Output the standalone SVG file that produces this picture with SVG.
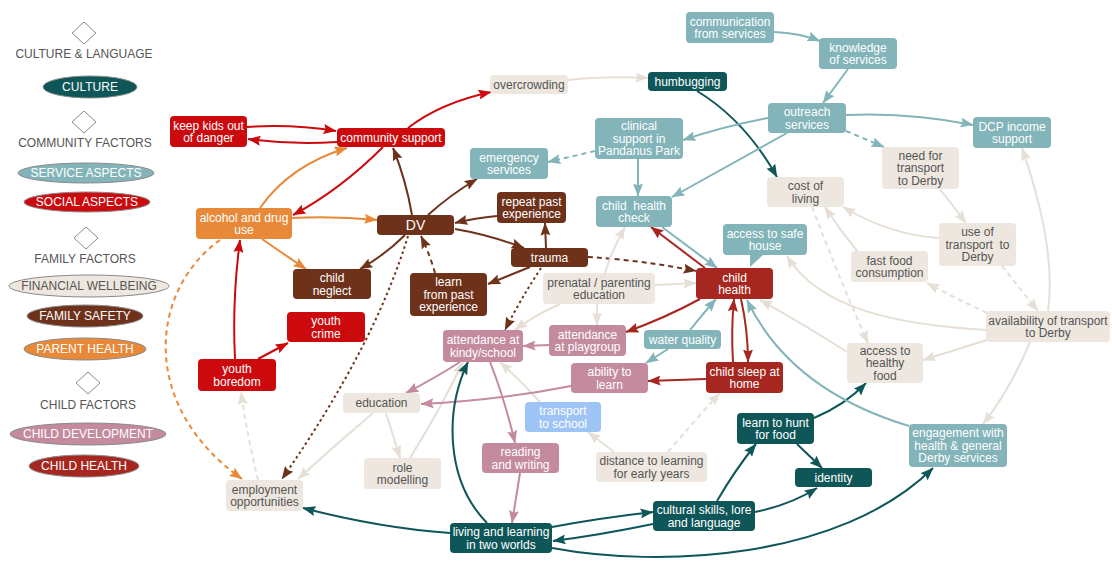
<svg xmlns="http://www.w3.org/2000/svg" width="1112" height="563" viewBox="0 0 1112 563">
<style>
  text { font-family: "Liberation Sans", Arial, sans-serif; font-size: 12px; text-anchor: middle; fill: #fff; }
  .lg { fill: #555; }
  .dk { fill: #555; }
  .dia { fill: #fff; stroke: #8a8a8a; stroke-width: 1; }
  .ell { stroke: #8a8a8a; stroke-width: 1; }
  .f-cult { fill: #0f5659; }
  .f-serv { fill: #82b4b9; }
  .f-soc { fill: #cc0a0e; }
  .f-fin { fill: #ede7df; }
  .f-fam { fill: #6e321b; }
  .f-par { fill: #e8893a; }
  .f-dev { fill: #c48a9e; }
  .f-chh { fill: #a6271f; }
  .f-blue { fill: #9ec4f6; }
  .e { fill: none; stroke-width: 2; }
  .s-cult { stroke: #0f5659; }
  .s-serv { stroke: #82b4b9; }
  .s-soc { stroke: #cc0a0e; }
  .s-fin { stroke: #e6dfd5; }
  .s-fam { stroke: #6e321b; }
  .s-par { stroke: #e8893a; }
  .s-dev { stroke: #c48a9e; }
  .s-chh { stroke: #a6271f; }
  .dash { stroke-dasharray: 5 4; }
  .dot { stroke-dasharray: 2.5 3; }
</style>
<defs>
  <marker id="a-cult" markerUnits="userSpaceOnUse" markerWidth="13" markerHeight="10" viewBox="0 0 13 10" refX="12.5" refY="5" orient="auto"><path d="M0,0 L13,5 L0,10 L2,5 z" fill="#0f5659"/></marker>
  <marker id="a-serv" markerUnits="userSpaceOnUse" markerWidth="13" markerHeight="10" viewBox="0 0 13 10" refX="12.5" refY="5" orient="auto"><path d="M0,0 L13,5 L0,10 L2,5 z" fill="#82b4b9"/></marker>
  <marker id="a-soc" markerUnits="userSpaceOnUse" markerWidth="13" markerHeight="10" viewBox="0 0 13 10" refX="12.5" refY="5" orient="auto"><path d="M0,0 L13,5 L0,10 L2,5 z" fill="#cc0a0e"/></marker>
  <marker id="a-fin" markerUnits="userSpaceOnUse" markerWidth="13" markerHeight="10" viewBox="0 0 13 10" refX="12.5" refY="5" orient="auto"><path d="M0,0 L13,5 L0,10 L2,5 z" fill="#e6dfd5"/></marker>
  <marker id="a-fam" markerUnits="userSpaceOnUse" markerWidth="13" markerHeight="10" viewBox="0 0 13 10" refX="12.5" refY="5" orient="auto"><path d="M0,0 L13,5 L0,10 L2,5 z" fill="#6e321b"/></marker>
  <marker id="a-par" markerUnits="userSpaceOnUse" markerWidth="13" markerHeight="10" viewBox="0 0 13 10" refX="12.5" refY="5" orient="auto"><path d="M0,0 L13,5 L0,10 L2,5 z" fill="#e8893a"/></marker>
  <marker id="a-dev" markerUnits="userSpaceOnUse" markerWidth="13" markerHeight="10" viewBox="0 0 13 10" refX="12.5" refY="5" orient="auto"><path d="M0,0 L13,5 L0,10 L2,5 z" fill="#c48a9e"/></marker>
  <marker id="a-chh" markerUnits="userSpaceOnUse" markerWidth="13" markerHeight="10" viewBox="0 0 13 10" refX="12.5" refY="5" orient="auto"><path d="M0,0 L13,5 L0,10 L2,5 z" fill="#a6271f"/></marker>
</defs>

<rect width="1112" height="563" fill="#fff"/>

<!-- legend -->
<g id="legend">
  <polygon class="dia" points="84,22 96,33 84,44 72,33"/>
  <text class="lg" x="84" y="58">CULTURE &amp; LANGUAGE</text>
  <ellipse class="ell f-cult" cx="90" cy="87" rx="47" ry="11"/>
  <text x="90" y="91">CULTURE</text>
  <polygon class="dia" points="84,111 96,122 84,133 72,122"/>
  <text class="lg" x="85" y="147">COMMUNITY FACTORS</text>
  <ellipse class="ell f-serv" cx="86" cy="173" rx="68" ry="10"/>
  <text x="86" y="177">SERVICE ASPECTS</text>
  <ellipse class="ell f-soc" cx="87" cy="202" rx="63" ry="10"/>
  <text x="87" y="206">SOCIAL ASPECTS</text>
  <polygon class="dia" points="86,227 98,238 86,249 74,238"/>
  <text class="lg" x="85" y="263">FAMILY FACTORS</text>
  <ellipse class="ell f-fin" cx="89" cy="286" rx="80" ry="11"/>
  <text class="dk" x="89" y="290">FINANCIAL WELLBEING</text>
  <ellipse class="ell f-fam" cx="85" cy="316" rx="58" ry="11"/>
  <text x="85" y="320">FAMILY SAFETY</text>
  <ellipse class="ell f-par" cx="85" cy="349" rx="61" ry="11"/>
  <text x="85" y="353">PARENT HEALTH</text>
  <polygon class="dia" points="88,372 100,383 88,394 76,383"/>
  <text class="lg" x="88" y="409">CHILD FACTORS</text>
  <ellipse class="ell f-dev" cx="88" cy="434" rx="78" ry="11"/>
  <text x="88" y="438">CHILD DEVELOPMENT</text>
  <ellipse class="ell f-chh" cx="84" cy="466" rx="55" ry="11"/>
  <text x="84" y="470">CHILD HEALTH</text>
</g>

<!-- connectors -->
<g id="connectors">
  <!-- social -->
  <path class="e s-soc" d="M247,127 Q292,124 336,131" marker-end="url(#a-soc)"/>
  <path class="e s-soc" d="M337,142 Q292,145 248,139" marker-end="url(#a-soc)"/>
  <path class="e s-soc" d="M408,128 Q440,103 491,92" marker-end="url(#a-soc)"/>
  <path class="e s-soc" d="M383,147 Q340,190 293,215" marker-end="url(#a-soc)"/>
  <path class="e s-soc" d="M235,359 Q232,300 240,240" marker-end="url(#a-soc)"/>
  <path class="e s-soc" d="M258,359 L288,343" marker-end="url(#a-soc)"/>
  <!-- parent health -->
  <path class="e s-par" d="M260,208 Q290,165 347,148" marker-end="url(#a-par)"/>
  <path class="e s-par" d="M292,218 Q335,216 377,220" marker-end="url(#a-par)"/>
  <path class="e s-par" d="M262,239 Q285,255 306,269" marker-end="url(#a-par)"/>
  <path class="e s-par dash" d="M220,240 C150,290 138,405 242,479" marker-end="url(#a-par)"/>
  <!-- family safety -->
  <path class="e s-fam" d="M412,215 Q406,180 393,148" marker-end="url(#a-fam)"/>
  <path class="e s-fam" d="M405,235 Q385,255 360,269" marker-end="url(#a-fam)"/>
  <path class="e s-fam dot" d="M408,236 Q375,345 282,479" marker-end="url(#a-fam)"/>
  <path class="e s-fam dash" d="M435,273 Q430,255 421,236" marker-end="url(#a-fam)"/>
  <path class="e s-fam" d="M428,215 Q450,195 477,179" marker-end="url(#a-fam)"/>
  <path class="e s-fam" d="M497,216 Q475,218 455,223" marker-end="url(#a-fam)"/>
  <path class="e s-fam" d="M455,229 Q490,235 524,248" marker-end="url(#a-fam)"/>
  <path class="e s-fam" d="M546,248 L545,223" marker-end="url(#a-fam)"/>
  <path class="e s-fam" d="M530,267 Q510,275 488,284" marker-end="url(#a-fam)"/>
  <path class="e s-fam dash" d="M588,257 Q640,260 696,271" marker-end="url(#a-fam)"/>
  <path class="e s-fam dot" d="M541,268 Q520,300 505,330" marker-end="url(#a-fam)"/>
  <!-- financial wellbeing -->
  <path class="e s-fin dash" d="M258,480 Q248,440 241,392" marker-end="url(#a-fin)"/>
  <path class="e s-fin" d="M373,413 Q335,445 298,479" marker-end="url(#a-fin)"/>
  <path class="e s-fin" d="M386,413 L400,458" marker-end="url(#a-fin)"/>
  <path class="e s-fin" d="M410,458 Q440,410 463,362" marker-end="url(#a-fin)"/>
  <path class="e s-fin" d="M568,80 Q605,76 648,78" marker-end="url(#a-fin)"/>
  <path class="e s-fin" d="M940,189 L966,223" marker-end="url(#a-fin)"/>
  <path class="e s-fin" d="M939,238 Q890,235 843,207" marker-end="url(#a-fin)"/>
  <path class="e s-fin" d="M857,251 Q840,230 825,207" marker-end="url(#a-fin)"/>
  <path class="e s-fin dash" d="M812,207 Q840,280 868,343" marker-end="url(#a-fin)"/>
  <path class="e s-fin dash" d="M1002,266 L1038,311" marker-end="url(#a-fin)"/>
  <path class="e s-fin dash" d="M987,313 Q955,298 927,283" marker-end="url(#a-fin)"/>
  <path class="e s-fin" d="M987,330 C900,325 820,310 787,256" marker-end="url(#a-fin)"/>
  <path class="e s-fin" d="M987,340 Q955,350 923,360" marker-end="url(#a-fin)"/>
  <path class="e s-fin" d="M847,352 Q800,322 760,300" marker-end="url(#a-fin)"/>
  <path class="e s-fin" d="M1048,311 C1055,260 1040,200 1022,148" marker-end="url(#a-fin)"/>
  <path class="e s-fin" d="M1030,342 Q1010,390 983,424" marker-end="url(#a-fin)"/>
  <path class="e s-fin" d="M655,285 L696,283" marker-end="url(#a-fin)"/>
  <path class="e s-fin" d="M605,273 Q612,250 625,227" marker-end="url(#a-fin)"/>
  <path class="e s-fin" d="M597,304 L597,325" marker-end="url(#a-fin)"/>
  <path class="e s-fin" d="M560,304 Q535,315 515,330" marker-end="url(#a-fin)"/>
  <path class="e s-fin" d="M540,402 Q520,380 500,362" marker-end="url(#a-fin)"/>
  <path class="e s-fin" d="M614,452 L588,432" marker-end="url(#a-fin)"/>
  <path class="e s-fin dash" d="M668,452 Q695,420 720,393" marker-end="url(#a-fin)"/>
  <!-- child development -->
  <path class="e s-dev" d="M460,362 Q435,378 406,393" marker-end="url(#a-dev)"/>
  <path class="e s-dev" d="M571,386 Q500,400 421,404" marker-end="url(#a-dev)"/>
  <path class="e s-dev" d="M549,345 L523,346" marker-end="url(#a-dev)"/>
  <path class="e s-dev" d="M490,362 Q505,400 515,443" marker-end="url(#a-dev)"/>
  <path class="e s-dev" d="M520,473 Q516,498 512,523" marker-end="url(#a-dev)"/>
  <!-- culture -->
  <path class="e s-cult" d="M487,523 C445,480 445,410 468,362" marker-end="url(#a-cult)"/>
  <path class="e s-cult" d="M450,533 Q380,528 303,508" marker-end="url(#a-cult)"/>
  <path class="e s-cult" d="M552,527 Q600,518 653,512" marker-end="url(#a-cult)"/>
  <path class="e s-cult" d="M653,524 Q600,535 553,541" marker-end="url(#a-cult)"/>
  <path class="e s-cult" d="M552,548 C660,568 840,560 933,468" marker-end="url(#a-cult)"/>
  <path class="e s-cult" d="M717,501 Q735,470 756,444" marker-end="url(#a-cult)"/>
  <path class="e s-cult" d="M755,512 Q790,505 817,488" marker-end="url(#a-cult)"/>
  <path class="e s-cult" d="M797,444 L822,468" marker-end="url(#a-cult)"/>
  <path class="e s-cult" d="M814,418 Q845,405 866,383" marker-end="url(#a-cult)"/>
  <path class="e s-cult" d="M697,91 Q745,120 777,177" marker-end="url(#a-cult)"/>
  <!-- service aspects -->
  <path class="e s-serv" d="M909,426 Q790,390 747,300" marker-end="url(#a-serv)"/>
  <path class="e s-serv" d="M774,32 Q800,33 820,41" marker-end="url(#a-serv)"/>
  <path class="e s-serv" d="M848,69 L823,103" marker-end="url(#a-serv)"/>
  <path class="e s-serv" d="M846,115 Q910,112 973,125" marker-end="url(#a-serv)"/>
  <path class="e s-serv dash" d="M846,131 L884,147" marker-end="url(#a-serv)"/>
  <path class="e s-serv" d="M768,118 Q725,126 683,140" marker-end="url(#a-serv)"/>
  <path class="e s-serv" d="M787,133 Q730,165 672,197" marker-end="url(#a-serv)"/>
  <path class="e s-serv dash" d="M595,151 L548,162" marker-end="url(#a-serv)"/>
  <path class="e s-serv" d="M638,159 L638,196" marker-end="url(#a-serv)"/>
  <path class="e s-serv" d="M662,227 L717,268" marker-end="url(#a-serv)"/>
  <path class="e s-serv" d="M690,330 Q702,315 716,299" marker-end="url(#a-serv)"/>
  <path class="e s-serv" d="M668,349 L646,363" marker-end="url(#a-serv)"/>
  <polygon points="750,254 764,254 750,267" fill="#82b4b9"/>
  <!-- child health -->
  <path class="e s-chh" d="M705,268 L651,227" marker-end="url(#a-chh)"/>
  <path class="e s-chh" d="M700,299 Q665,318 626,332" marker-end="url(#a-chh)"/>
  <path class="e s-chh" d="M741,299 Q748,330 748,362" marker-end="url(#a-chh)"/>
  <path class="e s-chh" d="M733,362 Q731,330 734,299" marker-end="url(#a-chh)"/>
  <path class="e s-chh" d="M706,379 L648,381" marker-end="url(#a-chh)"/>
</g>

<!-- nodes -->
<g id="n-keep"><rect class="f-soc" x="170" y="116" width="77" height="31" rx="4"/><text x="208.5" y="129.5">keep kids out</text><text x="208.5" y="142">of danger</text></g>
<g id="n-community-support"><rect class="f-soc" x="337" y="128" width="108" height="19" rx="4"/><text x="391" y="141.7">community support</text></g>
<g id="n-overcrowding"><rect class="f-fin" x="490" y="75" width="78" height="19" rx="4"/><text class="dk" x="529" y="88.7">overcrowding</text></g>
<g id="n-humbugging"><rect class="f-cult" x="648" y="72" width="79" height="19" rx="4"/><text x="687.5" y="85.7">humbugging</text></g>
<g id="n-communication"><rect class="f-serv" x="686" y="12" width="88" height="31" rx="4"/><text x="730" y="25.5">communication</text><text x="730" y="38">from services</text></g>
<g id="n-knowledge"><rect class="f-serv" x="819" y="38" width="78" height="31" rx="4"/><text x="858" y="51.5">knowledge</text><text x="858" y="64">of services</text></g>
<g id="n-outreach"><rect class="f-serv" x="768" y="103" width="78" height="30" rx="4"/><text x="807" y="116">outreach</text><text x="807" y="128.5">services</text></g>
<g id="n-dcp"><rect class="f-serv" x="973" y="117" width="78" height="31" rx="4"/><text x="1012" y="130.5">DCP income</text><text x="1012" y="143">support</text></g>
<g id="n-clinical"><rect class="f-serv" x="595" y="118" width="88" height="41" rx="4"/><text x="639" y="130.2">clinical</text><text x="639" y="142.7">support in</text><text x="639" y="155.2">Pandanus Park</text></g>
<g id="n-emergency"><rect class="f-serv" x="470" y="148" width="78" height="31" rx="4"/><text x="509" y="161.5">emergency</text><text x="509" y="174">services</text></g>
<g id="n-need-transport"><rect class="f-fin" x="882" y="147" width="77" height="42" rx="4"/><text class="dk" x="920.5" y="159.7">need for</text><text class="dk" x="920.5" y="172.2">transport</text><text class="dk" x="920.5" y="184.7">to Derby</text></g>
<g id="n-cost-living"><rect class="f-fin" x="767" y="177" width="77" height="30" rx="4"/><text class="dk" x="805.5" y="190">cost of</text><text class="dk" x="805.5" y="202.5">living</text></g>
<g id="n-child-health-check"><rect class="f-serv" x="596" y="196" width="76" height="31" rx="4"/><text x="634" y="209.5">child&#160; health</text><text x="634" y="222">check</text></g>
<g id="n-alcohol"><rect class="f-par" x="196" y="208" width="96" height="31" rx="4"/><text x="244" y="221.5">alcohol and drug</text><text x="244" y="234">use</text></g>
<g id="n-dv"><rect class="f-fam" x="377" y="215" width="77" height="20" rx="4"/><text x="415.5" y="230" style="font-size:14px">DV</text></g>
<g id="n-repeat"><rect class="f-fam" x="497" y="192" width="69" height="31" rx="4"/><text x="531.5" y="205.5">repeat past</text><text x="531.5" y="218">experience</text></g>
<g id="n-trauma"><rect class="f-fam" x="511" y="248" width="77" height="19" rx="4"/><text x="549.5" y="261.7">trauma</text></g>
<g id="n-safe-house"><rect class="f-serv" x="723" y="224" width="84" height="31" rx="4"/><text x="765" y="237.5">access to safe</text><text x="765" y="250">house</text></g>
<g id="n-use-transport"><rect class="f-fin" x="939" y="223" width="77" height="43" rx="4"/><text class="dk" x="977.5" y="236.2">use of</text><text class="dk" x="977.5" y="248.7">transport&#160; to</text><text class="dk" x="977.5" y="261.2">Derby</text></g>
<g id="n-fast-food"><rect class="f-fin" x="851" y="251" width="77" height="31" rx="4"/><text class="dk" x="889.5" y="264.5">fast food</text><text class="dk" x="889.5" y="277">consumption</text></g>
<g id="n-child-health"><rect class="f-chh" x="696" y="268" width="77" height="31" rx="4"/><text x="734.5" y="281.5">child</text><text x="734.5" y="294">health</text></g>
<g id="n-neglect"><rect class="f-fam" x="293" y="269" width="78" height="30" rx="4"/><text x="332" y="282">child</text><text x="332" y="294.5">neglect</text></g>
<g id="n-learn-past"><rect class="f-fam" x="410" y="273" width="77" height="43" rx="4"/><text x="448.5" y="286.2">learn</text><text x="448.5" y="298.7">from past</text><text x="448.5" y="311.2">experience</text></g>
<g id="n-prenatal"><rect class="f-fin" x="543" y="273" width="112" height="31" rx="4"/><text class="dk" x="599" y="286.5">prenatal / parenting</text><text class="dk" x="599" y="299">education</text></g>
<g id="n-availability"><rect class="f-fin" x="986" y="311" width="124" height="31" rx="4"/><text class="dk" x="1048" y="324.5">availability of transport</text><text class="dk" x="1048" y="337">to Derby</text></g>
<g id="n-youth-crime"><rect class="f-soc" x="287" y="312" width="78" height="30" rx="4"/><text x="326" y="325">youth</text><text x="326" y="337.5">crime</text></g>
<g id="n-kindy"><rect class="f-dev" x="443" y="330" width="80" height="32" rx="4"/><text x="483" y="344">attendance at</text><text x="483" y="356.5">kindy/school</text></g>
<g id="n-playgroup"><rect class="f-dev" x="549" y="325" width="77" height="31" rx="4"/><text x="587.5" y="338.5">attendance</text><text x="587.5" y="351">at playgroup</text></g>
<g id="n-water"><rect class="f-serv" x="644" y="330" width="77" height="19" rx="4"/><text x="682.5" y="343.7">water quality</text></g>
<g id="n-healthy-food"><rect class="f-fin" x="847" y="343" width="76" height="40" rx="4"/><text class="dk" x="885" y="354.7">access to</text><text class="dk" x="885" y="367.2">healthy</text><text class="dk" x="885" y="379.7">food</text></g>
<g id="n-boredom"><rect class="f-soc" x="198" y="359" width="78" height="32" rx="4"/><text x="237" y="373">youth</text><text x="237" y="385.5">boredom</text></g>
<g id="n-ability"><rect class="f-dev" x="571" y="363" width="77" height="30" rx="4"/><text x="609.5" y="376">ability to</text><text x="609.5" y="388.5">learn</text></g>
<g id="n-sleep"><rect class="f-chh" x="706" y="362" width="77" height="31" rx="4"/><text x="744.5" y="375.5">child sleep at</text><text x="744.5" y="388">home</text></g>
<g id="n-education"><rect class="f-fin" x="343" y="393" width="77" height="20" rx="4"/><text class="dk" x="381.5" y="407.2">education</text></g>
<g id="n-transport-school"><rect class="f-blue" x="525" y="402" width="76" height="30" rx="4"/><text x="563" y="415">transport</text><text x="563" y="427.5">to school</text></g>
<g id="n-hunt"><rect class="f-cult" x="737" y="413" width="77" height="31" rx="4"/><text x="775.5" y="426.5">learn to hunt</text><text x="775.5" y="439">for food</text></g>
<g id="n-engagement"><rect class="f-serv" x="909" y="424" width="98" height="43" rx="4"/><text x="958" y="437.2">engagement with</text><text x="958" y="449.7">health &amp; general</text><text x="958" y="462.2">Derby services</text></g>
<g id="n-reading"><rect class="f-dev" x="482" y="443" width="77" height="30" rx="4"/><text x="520.5" y="456">reading</text><text x="520.5" y="468.5">and writing</text></g>
<g id="n-distance"><rect class="f-fin" x="596" y="452" width="111" height="30" rx="4"/><text class="dk" x="651.5" y="465">distance to learning</text><text class="dk" x="651.5" y="477.5">for early years</text></g>
<g id="n-role"><rect class="f-fin" x="364" y="458" width="77" height="31" rx="4"/><text class="dk" x="402.5" y="471.5">role</text><text class="dk" x="402.5" y="484">modelling</text></g>
<g id="n-identity"><rect class="f-cult" x="795" y="468" width="77" height="19" rx="4"/><text x="833.5" y="481.7">identity</text></g>
<g id="n-employment"><rect class="f-fin" x="226" y="480" width="77" height="31" rx="4"/><text class="dk" x="264.5" y="493.5">employment</text><text class="dk" x="264.5" y="506">opportunities</text></g>
<g id="n-cultural"><rect class="f-cult" x="653" y="501" width="102" height="30" rx="4"/><text x="704" y="514">cultural skills, lore</text><text x="704" y="526.5">and language</text></g>
<g id="n-living"><rect class="f-cult" x="450" y="523" width="102" height="30" rx="4"/><text x="501" y="536">living and learning</text><text x="501" y="548.5">in two worlds</text></g>
</svg>
